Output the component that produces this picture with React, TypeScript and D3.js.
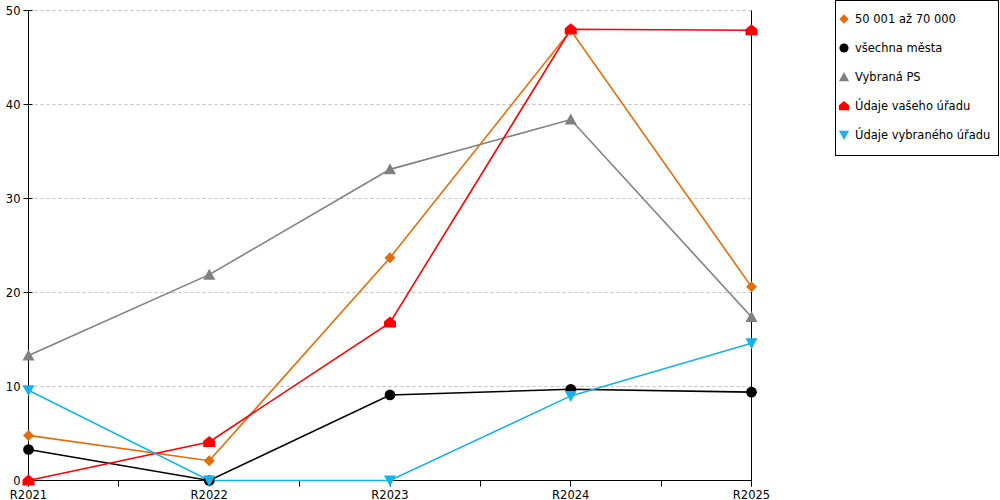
import React, { useEffect, useRef } from 'react';
import * as d3 from 'd3';

const categories = ['R2021', 'R2022', 'R2023', 'R2024', 'R2025'];
const yTicks = [0, 10, 20, 30, 40, 50];

const orangeValues = [4.8, 2.1, 23.7, 47.9, 20.6];
const blackValues = [3.3, 0, 9.1, 9.7, 9.4];
const grayValues = [13.3, 21.9, 33.1, 38.4, 17.4];
const redValues = [0, 4.1, 16.8, 48, 47.9];
const blueValues = [9.6, 0, 0, 9.0, 14.6];

const seriesNames = ['50 001 až 70 000', 'všechna města', 'Vybraná PS', 'Údaje vašeho úřadu', 'Údaje vybraného úřadu'];

const W = 1000;
const H = 500;

type Shape = 'diamond' | 'circle' | 'triangle' | 'house' | 'triangleDown';

const markerPath = (shape: Shape): string => {
  switch (shape) {
    case 'diamond':
      return 'M0,-5.5L5.5,0L0,5.5L-5.5,0Z';
    case 'circle':
      return d3.symbol().type(d3.symbolCircle).size(90)() as string;
    case 'triangle':
      return 'M0,-6L6,5L-6,5Z';
    case 'house':
      return 'M0,-6L6,-1L6,5L-6,5L-6,-1Z';
    case 'triangleDown':
      return 'M-6,-5L6,-5L0,6Z';
  }
};

const App: React.FC = () => {
  const svgRef = useRef<SVGSVGElement>(null);

  useEffect(() => {
    if (!svgRef.current) return;
    const svg = d3.select(svgRef.current);
    svg.selectAll('*').remove();

    const left = 28.5;
    const right = 751.5;
    const top = 10.5;
    const bottom = 480.5;

    const x = d3.scalePoint<string>().domain(categories).range([left, right]).padding(0);
    const y = d3.scaleLinear().domain([0, 50]).range([bottom, top]);

    const font = "'DejaVu Sans', Verdana, sans-serif";
    const fontSize = '11.5px';

    // Gridlines
    svg.append('g')
      .selectAll('line')
      .data(yTicks.filter(t => t > 0))
      .join('line')
      .attr('x1', left)
      .attr('x2', right)
      .attr('y1', d => y(d))
      .attr('y2', d => y(d))
      .attr('stroke', '#c0c0c0')
      .attr('stroke-width', 1)
      .attr('stroke-dasharray', '3,3');

    // Axes
    svg.append('line')
      .attr('x1', left).attr('x2', left)
      .attr('y1', top).attr('y2', bottom + 6)
      .attr('stroke', '#000');
    svg.append('line')
      .attr('x1', right).attr('x2', right)
      .attr('y1', top).attr('y2', bottom + 6)
      .attr('stroke', '#000');
    svg.append('line')
      .attr('x1', left).attr('x2', right)
      .attr('y1', bottom).attr('y2', bottom)
      .attr('stroke', '#000');

    // Y ticks
    yTicks.forEach(t => {
      svg.append('line')
        .attr('x1', left - 5).attr('x2', left + 4)
        .attr('y1', y(t)).attr('y2', y(t))
        .attr('stroke', '#000');
      svg.append('text')
        .attr('x', left - 8)
        .attr('y', y(t) + 4)
        .attr('text-anchor', 'end')
        .style('font-family', font)
        .style('font-size', fontSize)
        .text(t.toString());
    });

    // X ticks (at categories and midpoints)
    const step = x.step();
    d3.range(0, categories.length * 2 - 1).forEach(i => {
      const px = Math.round(left + (i * step) / 2 - 0.5) + 0.5;
      svg.append('line')
        .attr('x1', px).attr('x2', px)
        .attr('y1', bottom).attr('y2', bottom + 6)
        .attr('stroke', '#000');
    });
    categories.forEach(c => {
      svg.append('text')
        .attr('x', x(c) as number)
        .attr('y', bottom + 18)
        .attr('text-anchor', 'middle')
        .style('font-family', font)
        .style('font-size', fontSize)
        .text(c);
    });

    const series: { values: number[]; color: string; shape: Shape }[] = [
      { values: grayValues, color: '#808080', shape: 'triangle' },
      { values: orangeValues, color: '#E46C0A', shape: 'diamond' },
      { values: blackValues, color: '#000000', shape: 'circle' },
      { values: redValues, color: '#FF0000', shape: 'house' },
      { values: blueValues, color: '#1AB0EA', shape: 'triangleDown' },
    ];

    const line = d3.line<number>()
      .x((_, i) => x(categories[i]) as number)
      .y(d => y(d));

    series.forEach(s => {
      svg.append('path')
        .datum(s.values)
        .attr('d', line)
        .attr('fill', 'none')
        .attr('stroke', s.color)
        .attr('stroke-width', 1.6);
    });
    series.forEach(s => {
      svg.append('g')
        .selectAll('path')
        .data(s.values)
        .join('path')
        .attr('transform', (d, i) => `translate(${x(categories[i])},${y(d)})`)
        .attr('d', markerPath(s.shape))
        .attr('fill', s.color);
    });

    // Legend
    const legendColors = ['#E46C0A', '#000000', '#808080', '#FF0000', '#1AB0EA'];
    const legendShapes: Shape[] = ['diamond', 'circle', 'triangle', 'house', 'triangleDown'];
    svg.append('rect')
      .attr('x', 835.5).attr('y', 0.5)
      .attr('width', 163).attr('height', 155)
      .attr('fill', '#fff')
      .attr('stroke', '#000');
    seriesNames.forEach((name, i) => {
      const ly = 19 + i * 29;
      svg.append('path')
        .attr('transform', `translate(844,${ly})scale(0.85)`)
        .attr('d', markerPath(legendShapes[i]))
        .attr('fill', legendColors[i]);
      svg.append('text')
        .attr('x', 855)
        .attr('y', ly + 4)
        .style('font-family', font)
        .style('font-size', fontSize)
        .text(name);
    });
  }, []);

  return (
    <div style={{ position: 'absolute', left: 0, top: 0 }}>
      <svg ref={svgRef} width={W} height={H} style={{ display: 'block', background: '#fff' }} />
    </div>
  );
};

export default App;
